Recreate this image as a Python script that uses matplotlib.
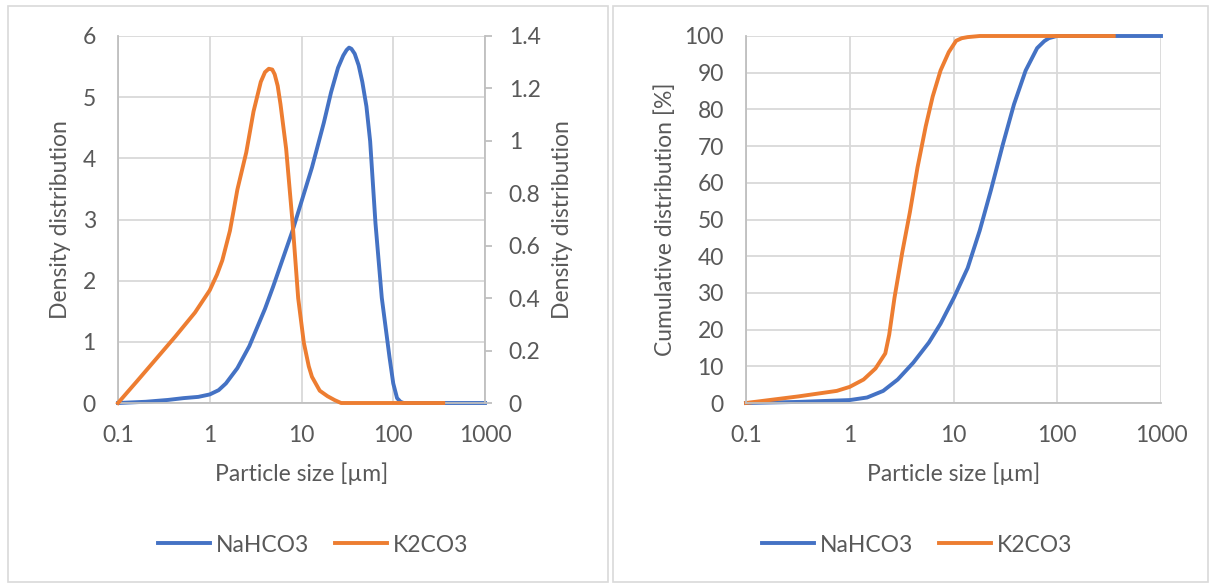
import numpy as np
import matplotlib.pyplot as plt
from matplotlib.patches import Rectangle

plt.rcParams['font.family'] = ['Lato', 'DejaVu Sans']

# density distribution (left plot)
size_na_d = [0.1, 0.2, 0.35, 0.52, 0.75, 1.0, 1.25, 1.5, 2.0, 2.7, 4.0, 4.9, 8.0, 13, 17.5,
             21, 25, 28.5, 31, 33, 35, 38, 42, 46, 51, 56, 64, 75, 91, 100, 110, 120, 130,
             300, 1000]
dens_na = [0.0, 0.02, 0.05, 0.08, 0.1, 0.14, 0.21, 0.32, 0.57, 0.93, 1.54, 1.9, 2.82, 3.85, 4.58,
           5.08, 5.48, 5.68, 5.77, 5.81, 5.79, 5.71, 5.52, 5.25, 4.85, 4.28, 2.94, 1.72, 0.75,
           0.32, 0.08, 0.02, 0.0, 0.0, 0.0]

size_k_d = [0.1, 0.16, 0.26, 0.42, 0.69, 1.0, 1.2, 1.37, 1.66, 1.84, 2.0, 2.5, 3.0, 3.6, 4.0,
            4.4, 4.8, 5.1, 5.5, 5.9, 6.8, 8.0, 9.2, 10.6, 12, 13, 15.8, 19.2, 23, 27, 100, 350]
dens_k = [0.0, 0.082, 0.168, 0.253, 0.345, 0.43, 0.49, 0.544, 0.657, 0.743, 0.814, 0.956, 1.112,
          1.225, 1.262, 1.275, 1.272, 1.254, 1.21, 1.14, 0.97, 0.686, 0.40, 0.23, 0.14, 0.10,
          0.047, 0.026, 0.011, 0.0, 0.0, 0.0]

# cumulative distribution (right plot)
size_na_c = [0.1, 0.32, 1.0, 1.47, 2.1, 2.9, 4.1, 5.8, 7.5, 10.1, 13.7, 17.9, 23, 29.8, 38.3,
             49.6, 64, 75, 83, 99, 1000]
cum_na = [0.0, 0.3, 0.8, 1.5, 3.3, 6.4, 11, 16.5, 21.6, 28.7, 36.8, 47, 58.1, 70.3, 81.4,
          90.6, 96.7, 98.6, 99.4, 100, 100]

size_k_c = [0.1, 0.32, 0.75, 1.0, 1.36, 1.77, 2.2, 2.4, 2.7, 3.2, 3.8, 4.5, 5.4, 6.3, 7.5,
            9.0, 10.6, 12, 13.7, 17.9, 350]
cum_k = [0.0, 1.8, 3.3, 4.4, 6.4, 9.4, 13.5, 18.6, 28.7, 40.9, 52, 64.2, 75.4, 83.5, 90.6,
         95.6, 98.7, 99.4, 99.7, 100, 100]

x_ticks = [0.1, 1, 10, 100, 1000]
x_labels = ['0.1', '1', '10', '100', '1000']

BLUE = '#4472C4'
ORANGE = '#ED7D31'
TXT = '#595959'
GRID = '#D9D9D9'
AXLINE = '#BFBFBF'
FS = 16.5
LW = 2.8
W, H = 1210, 583


def px_axes(fig, x0, x1, y0, y1):
    return fig.add_axes([x0 / W, 1 - y1 / H, (x1 - x0) / W, (y1 - y0) / H])


def style(ax):
    ax.set_xscale('log')
    ax.set_xlim(0.1, 1000)
    ax.grid(True, color=GRID, lw=1.3)
    ax.set_axisbelow(True)
    for s in ['top', 'right']:
        ax.spines[s].set_visible(False)
    for s in ['left', 'bottom']:
        ax.spines[s].set_color(AXLINE)
        ax.spines[s].set_linewidth(1.3)
    ax.tick_params(axis='both', length=0, labelsize=FS, labelcolor=TXT)
    ax.tick_params(axis='x', pad=16)
    ax.tick_params(axis='y', pad=16)


def fix_xticks(ax):
    ax.set_xticks(x_ticks)
    ax.set_xticklabels(x_labels)
    ax.xaxis.set_minor_locator(plt.NullLocator())


def add_legend(fig, handles, labels, xc):
    fig.legend(handles, labels, loc='center', bbox_to_anchor=(xc / W, 1 - 545 / H),
               ncol=2, frameon=False, fontsize=FS, labelcolor=TXT, handlelength=2.3,
               handletextpad=0.25, columnspacing=1.1)


fig = plt.figure(figsize=(W / 100, H / 100), dpi=100)

# panel frames
for x0, x1 in [(8, 608), (613, 1208)]:
    fig.patches.append(Rectangle((x0 / W, 1 - 582 / H), (x1 - x0) / W, 576 / H,
                                 transform=fig.transFigure, fill=False,
                                 edgecolor=GRID, lw=1.2))

# left: density
ax1 = px_axes(fig, 118, 485, 36, 403)
style(ax1)
ax1.set_ylim(0, 6)
ax1.set_yticks(range(0, 7))
ax1.plot(size_na_d, dens_na, color=BLUE, lw=LW, clip_on=False, label='NaHCO3')
ax1.set_xlabel('Particle size [µm]', fontsize=FS, color=TXT)
ax1.xaxis.set_label_coords(0.5, -0.163)
ax1.set_ylabel('Density distribution', fontsize=FS, color=TXT)
ax1.yaxis.set_label_coords(-0.128, 0.5)

ax1b = ax1.twinx()
ax1b.set_ylim(0, 1.4)
ax1b.set_yticks(np.arange(0, 1.41, 0.2))
ax1b.set_yticklabels(['0', '0.2', '0.4', '0.6', '0.8', '1', '1.2', '1.4'])
for s in ['top', 'left', 'bottom']:
    ax1b.spines[s].set_visible(False)
ax1b.spines['right'].set_color(AXLINE)
ax1b.spines['right'].set_linewidth(1.3)
ax1b.tick_params(axis='y', length=5, width=1.3, color=AXLINE, labelsize=FS,
                 labelcolor=TXT, pad=12)
ax1b.plot(size_k_d, dens_k, color=ORANGE, lw=LW, clip_on=False, label='K2CO3')
ax1b.set_ylabel('Density distribution', fontsize=FS, color=TXT)
ax1b.yaxis.set_label_coords(1.183, 0.5)
fix_xticks(ax1)
ax1.set_xlim(0.1, 1000)

h1, l1 = ax1.get_legend_handles_labels()
h2, l2 = ax1b.get_legend_handles_labels()
add_legend(fig, h1 + h2, l1 + l2, 313)

# right: cumulative
ax2 = px_axes(fig, 746, 1161, 36, 403)
style(ax2)
fix_xticks(ax2)
ax2.set_ylim(0, 100)
ax2.set_yticks(range(0, 101, 10))
ax2.plot(size_na_c, cum_na, color=BLUE, lw=LW, clip_on=False, label='NaHCO3')
ax2.plot(size_k_c, cum_k, color=ORANGE, lw=LW, clip_on=False, label='K2CO3')
ax2.set_xlabel('Particle size [µm]', fontsize=FS, color=TXT)
ax2.xaxis.set_label_coords(0.5, -0.163)
ax2.set_ylabel('Cumulative distribution [%]', fontsize=FS, color=TXT)
ax2.yaxis.set_label_coords(-0.169, 0.5)
add_legend(fig, *ax2.get_legend_handles_labels(), 917)

fig.savefig('out.png', dpi=100)
